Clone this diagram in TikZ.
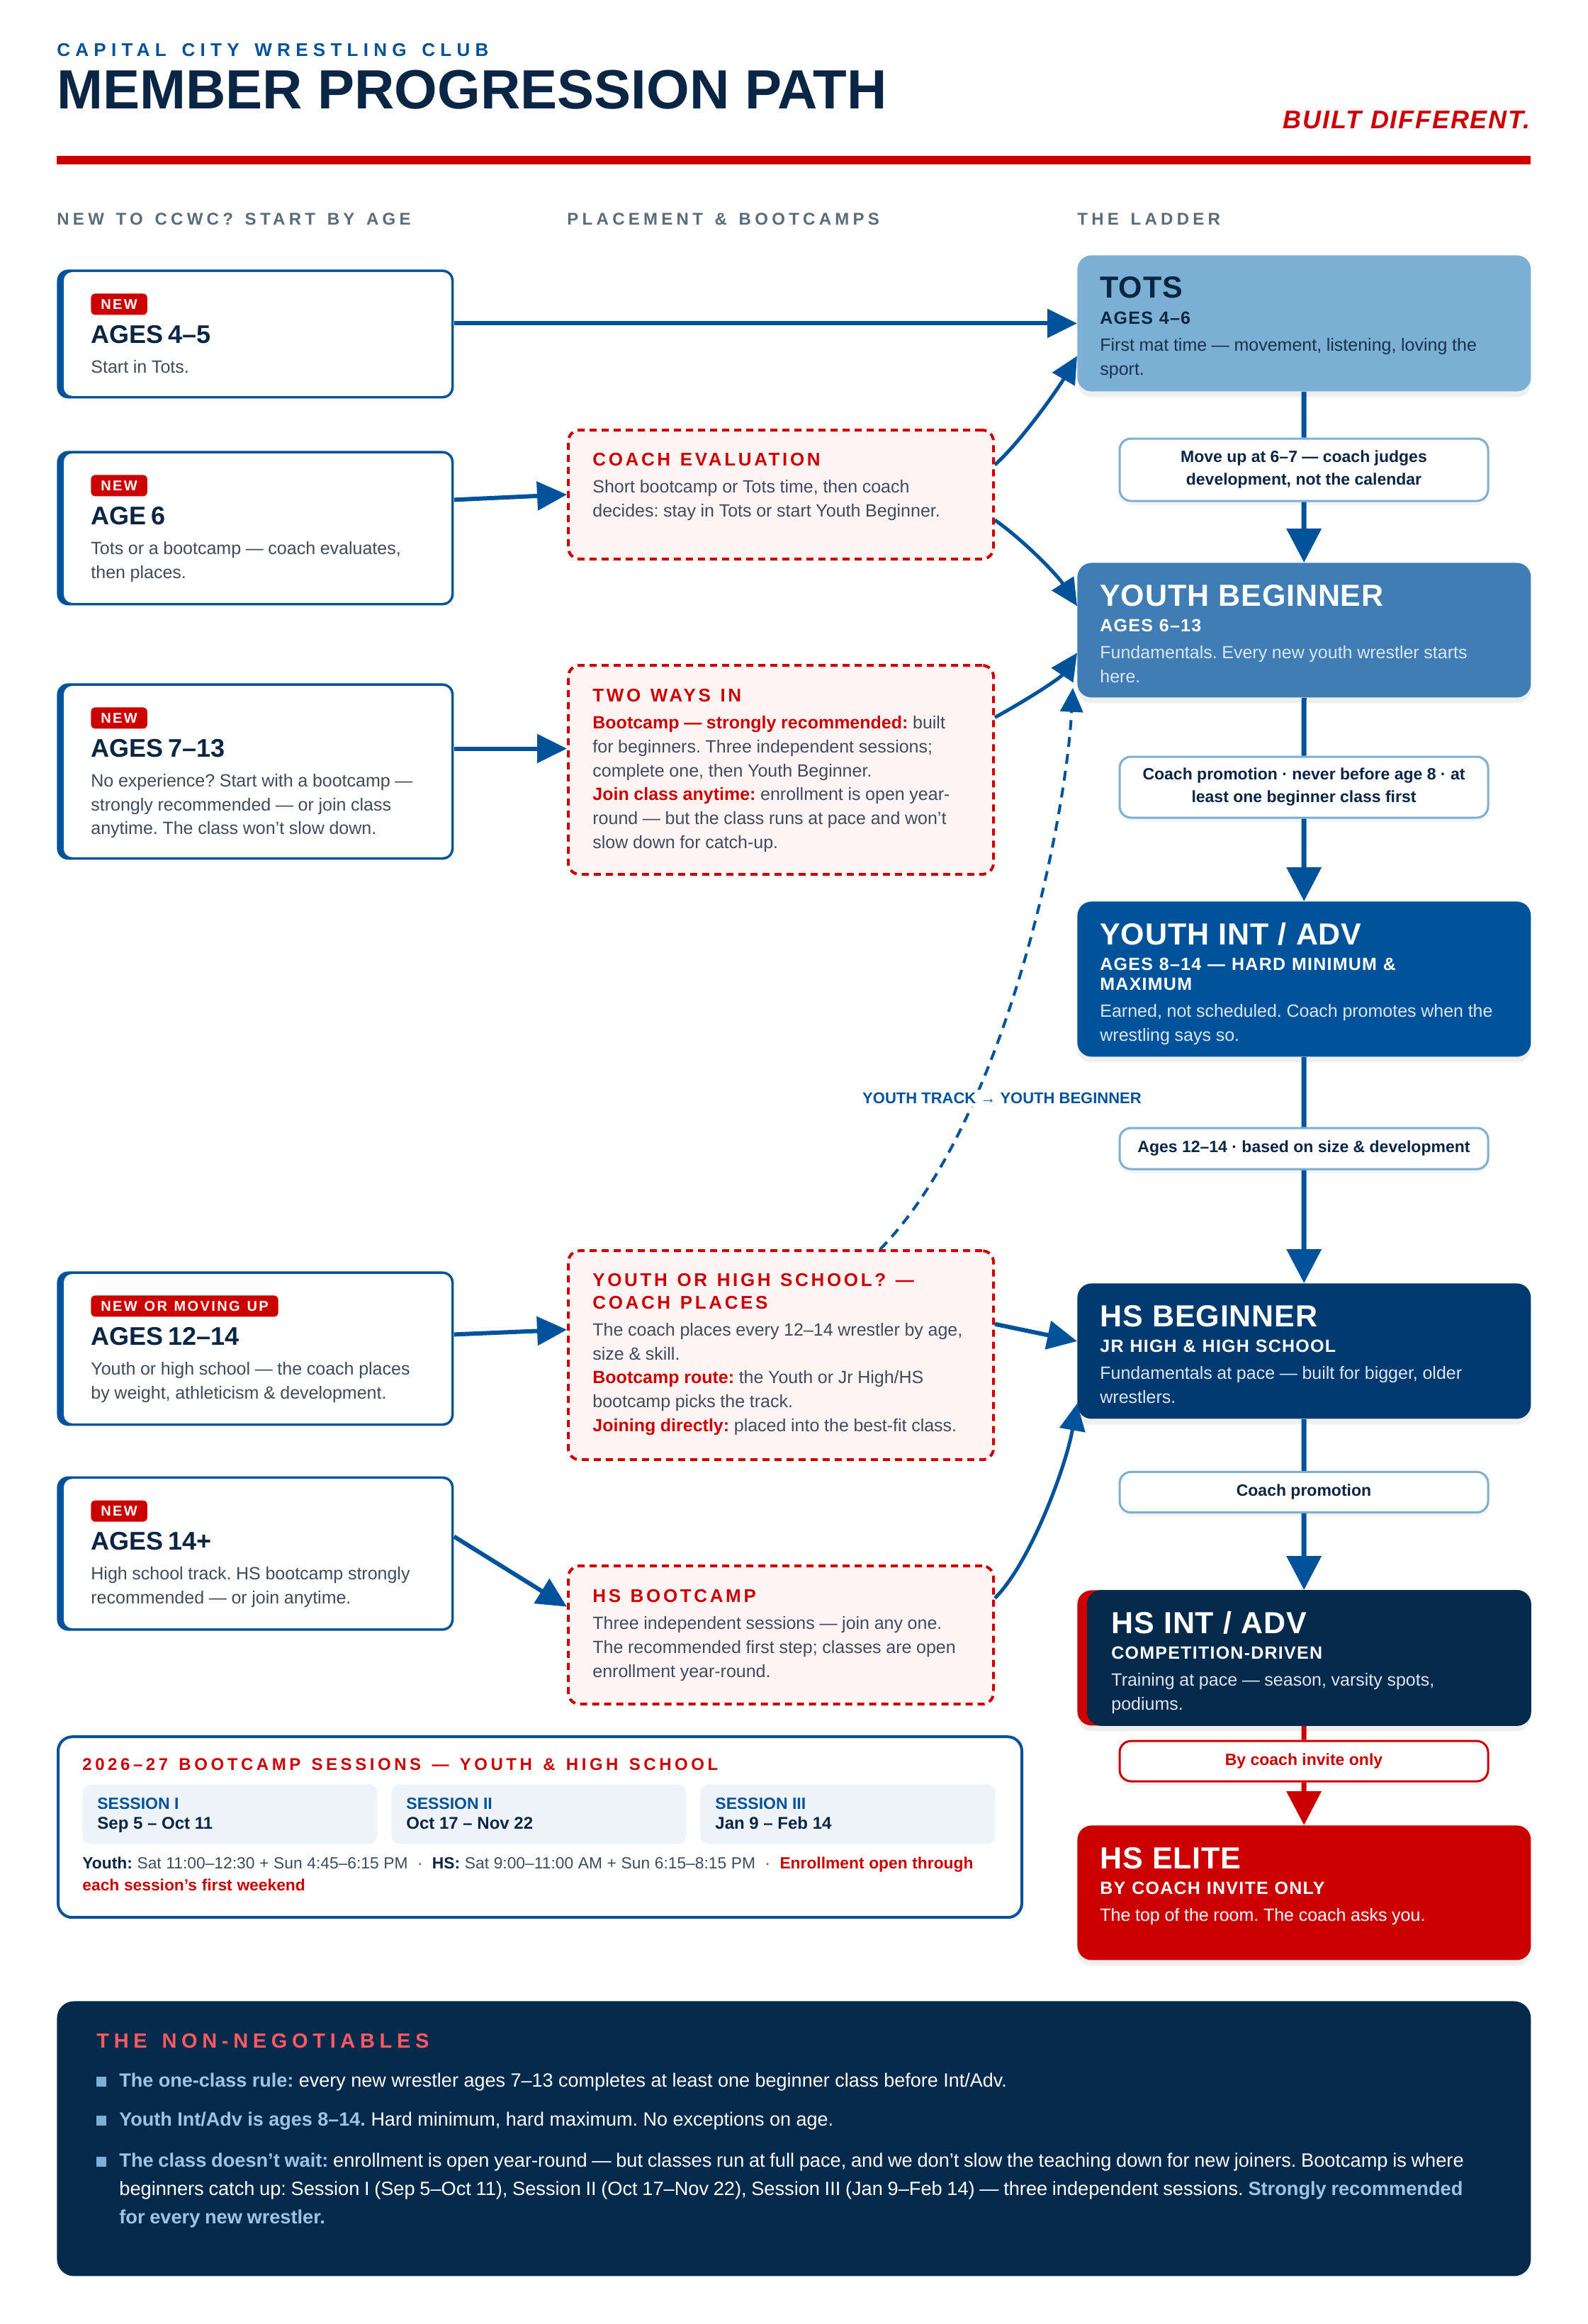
\documentclass[tikz,border=0pt]{standalone}
\usepackage{fontspec}
\setmainfont{Liberation Sans}
\usetikzlibrary{arrows.meta, calc, shadows}
\definecolor{blueC}{HTML}{00539B}
\definecolor{navyT}{HTML}{0B2545}
\definecolor{redC}{HTML}{CC0000}
\definecolor{grayT}{HTML}{3F4B5B}
\definecolor{grayH}{HTML}{5C6B7A}
\definecolor{pinkC}{HTML}{FFF4F4}
\definecolor{lightB}{HTML}{7BAFD4}
\definecolor{totsC}{HTML}{7BAFD4}
\definecolor{ybC}{HTML}{3F7DB4}
\definecolor{hsbC}{HTML}{003A70}
\definecolor{navyD}{HTML}{062A4C}
\definecolor{totsbody}{HTML}{17324F}
\definecolor{paleT}{HTML}{DCE7F2}
\definecolor{cardC}{HTML}{EEF3F9}
\definecolor{ruleB}{HTML}{9DC3E6}
\definecolor{ruleR}{HTML}{FF5A5F}
\setlength{\parindent}{0pt}
\setlength{\parskip}{0pt}
\frenchspacing
\newcommand\fz[2]{\fontsize{#1}{#2}\selectfont}
\newcommand\tracked[2]{\addfontfeatures{LetterSpace=#1}\spaceskip=#2\fontdimen2\font}
\newcommand\colhead{\color{grayH}\bfseries\fz{12}{12}\tracked{22}{1.4}}
\newcommand\lefttitle[1]{{\color{navyT}\bfseries\fz{18}{18}\rule{0pt}{18pt}#1\par}}
\newcommand\leftbody[1]{{\vspace{4.2pt}\color{grayT}\fz{12.5}{16.8}#1\par}}
\newcommand\midtitle[1]{{\color{redC}\bfseries\fz{13}{15.8}\tracked{14}{1.25}\rule{0pt}{13pt}#1\par}}
\newcommand\midbody[1]{{\vspace{2.1pt}\color{grayT}\fz{12.5}{16.9}#1\par}}
\newcommand\hot[1]{{\color{redC}\bfseries #1}}
\newcommand\rungtitle[1]{{\bfseries\fz{21.5}{21.5}\tracked{2}{1.035}\rule{0pt}{21.5pt}#1\par}}
\newcommand\rungsub[1]{{\bfseries\fz{12.5}{18}\tracked{5}{1.09}#1\par}}
\newcommand\rungbody[2][.]{{\vspace{2pt}\color{#1}\fz{12.5}{17.2}#2\par}}
\newcommand\rulehi[1]{{\color{ruleB}\bfseries #1}}

\begin{document}
\begin{tikzpicture}[x=1pt, y=-1pt,
  leftbox/.style={anchor=north west, fill=blueC, rounded corners=8pt, minimum width=280pt, inner sep=0pt},
  badge/.style={anchor=north west, fill=redC, rounded corners=3pt, inner xsep=7pt, inner ysep=0pt, minimum height=15pt, text=white, font=\bfseries\fz{10}{10}\tracked{12}{1.22}},
  lefttext/.style={anchor=north west, inner sep=0pt, text width=275pt, align=left},
  midbox/.style={anchor=north west, draw=redC, line width=2pt, dash pattern=on 5pt off 3.5pt, fill=pinkC, rounded corners=8pt, minimum width=300pt, inner sep=0pt},
  midtext/.style={anchor=north west, inner sep=0pt, text width=295pt, align=left},
  rung/.style={anchor=north west, rounded corners=10pt, minimum width=320pt, inner sep=0pt, drop shadow={opacity=0.12, shadow xshift=0pt, shadow yshift=-4pt}},
  rungtext/.style={anchor=north west, inner sep=0pt, text width=300pt, align=left},
  ladlabel/.style={draw=lightB, line width=1.5pt, fill=white, rounded corners=8pt, minimum width=260pt, inner sep=0pt, align=center, text=navyT, font=\bfseries\fz{11.5}{16}, drop shadow={opacity=0.08, shadow xshift=0pt, shadow yshift=-3pt}},
  flow/.style={draw=blueC, line width=3pt, -{Triangle[length=21pt, width=20pt]}},
  bendflow/.style={draw=blueC, line width=2.5pt, -{Triangle[length=19pt, width=18pt]}},
  rungline/.style={draw=blueC, line width=3.5pt},
  rungarrow/.style={rungline, -{Triangle[length=24pt, width=24pt]}},
  card/.style={anchor=north west, fill=cardC, rounded corners=6pt, minimum width=208pt, minimum height=42pt, inner sep=0pt}
]
	\fill[white] (0,0) rectangle (1120,1640);
	\useasboundingbox (0,0) rectangle (1120,1640);

	\node[anchor=base west, inner sep=0pt] (club) at (40,40) {\color{blueC}\bfseries\fz{13}{13}\tracked{28}{1.5}CAPITAL CITY WRESTLING CLUB};
	\node[anchor=base west, inner sep=0pt] (headline) at (40,77) {\color{navyT}\bfseries\fz{39}{39}MEMBER PROGRESSION PATH};
	\node[anchor=base east, inner sep=0pt] (motto) at (1080,91) {\color{redC}\bfseries\itshape\fz{18}{18}\tracked{5}{1.09}BUILT DIFFERENT.};
	\fill[redC] (40,110) rectangle (1080,116);
	\node[anchor=base west, inner sep=0pt] (colnew) at (40,159) {\colhead NEW TO CCWC? START BY AGE};
	\node[anchor=base west, inner sep=0pt] (colplace) at (400,159) {\colhead PLACEMENT \& BOOTCAMPS};
	\node[anchor=base west, inner sep=0pt] (colladder) at (760,159) {\colhead THE LADDER};

	\node[leftbox, minimum height=91pt] (b1) at (40,190) {};
	\node[leftbox, minimum height=109pt] (b2) at (40,318) {};
	\node[leftbox, minimum height=124.5pt] (b3) at (40,482) {};
	\node[leftbox, minimum height=109pt] (b4) at (40,897) {};
	\node[leftbox, minimum height=109pt] (b5) at (40,1041.6) {};
	\foreach \b in {b1,b2,b3,b4,b5}
		\fill[white, rounded corners=6pt] ($(\b.north west)+(5,2)$) rectangle ($(\b.south east)+(-2,-2)$);
	\node[badge] (b1tag) at ($(b1.north west)+(24,17)$) {NEW};
	\node[badge] (b2tag) at ($(b2.north west)+(24,17)$) {NEW};
	\node[badge] (b3tag) at ($(b3.north west)+(24,17)$) {NEW};
	\node[badge] (b4tag) at ($(b4.north west)+(24,17)$) {NEW OR MOVING UP};
	\node[badge] (b5tag) at ($(b5.north west)+(24,17)$) {NEW};
	\node[lefttext] (b1text) at ($(b1.north west)+(24,34)$) {\lefttitle{AGES 4–5}\leftbody{Start in Tots.}};
	\node[lefttext] (b2text) at ($(b2.north west)+(24,34)$) {\lefttitle{AGE 6}\leftbody{Tots or a bootcamp — coach evaluates,\\then places.}};
	\node[lefttext] (b3text) at ($(b3.north west)+(24,34)$) {\lefttitle{AGES 7–13}\leftbody{No experience? Start with a bootcamp —\\strongly recommended — or join class\\anytime. The class won’t slow down.}};
	\node[lefttext] (b4text) at ($(b4.north west)+(24,34)$) {\lefttitle{AGES 12–14}\leftbody{Youth or high school — the coach places\\by weight, athleticism \& development.}};
	\node[lefttext] (b5text) at ($(b5.north west)+(24,34)$) {\lefttitle{AGES 14+}\leftbody{High school track. HS bootcamp strongly\\recommended — or join anytime.}};

	\node[midbox, minimum height=91pt] (m1) at (400,302.5) {};
	\node[midbox, minimum height=147.5pt] (m2) at (400,468.5) {};
	\node[midbox, minimum height=147.5pt] (m3) at (400,881.6) {};
	\node[midbox, minimum height=97.6pt] (m4) at (400,1104) {};
	\node[midtext] (m1text) at ($(m1.north west)+(18,13)$) {\midtitle{COACH EVALUATION}\midbody{Short bootcamp or Tots time, then coach\\decides: stay in Tots or start Youth Beginner.}};
	\node[midtext] (m2text) at ($(m2.north west)+(18,13.5)$) {\midtitle{TWO WAYS IN}\midbody{\hot{Bootcamp — strongly recommended:} built\\for beginners. Three independent sessions;\\complete one, then Youth Beginner.\\\hot{Join class anytime:} enrollment is open year-\\round — but the class runs at pace and won’t\\slow down for catch-up.}};
	\node[midtext] (m3text) at ($(m3.north west)+(18,13)$) {\midtitle{YOUTH OR HIGH SCHOOL? —\\COACH PLACES}\midbody{The coach places every 12–14 wrestler by age,\\size \& skill.\\\hot{Bootcamp route:} the Youth or Jr High/HS\\bootcamp picks the track.\\\hot{Joining directly:} placed into the best-fit class.}};
	\node[midtext] (m4text) at ($(m4.north west)+(18,13.5)$) {\midtitle{HS BOOTCAMP}\midbody{Three independent sessions — join any one.\\The recommended first step; classes are open\\enrollment year-round.}};

	\node[rung, fill=totsC, minimum height=96pt] (tots) at (760,180) {};
	\node[rung, fill=ybC, minimum height=95pt] (yb) at (760,397) {};
	\node[rung, fill=blueC, minimum height=109.5pt] (yia) at (760,636) {};
	\node[rung, fill=hsbC, minimum height=95.5pt] (hsb) at (760,905.5) {};
	\node[rung, fill=redC, minimum height=95.5pt] (hsia) at (760,1122) {};
	\fill[navyD, rounded corners=10pt] ($(hsia.north west)+(7,0)$) rectangle (hsia.south east);
	\node[rung, fill=redC, minimum height=95pt] (hse) at (760,1288) {};
	\node[rungtext, text=navyT] (totstext) at ($(tots.north west)+(16,8.8)$) {\rungtitle{TOTS}\rungsub{AGES 4–6}\rungbody[totsbody]{First mat time — movement, listening, loving the\\sport.}};
	\node[rungtext, text=white] (ybtext) at ($(yb.north west)+(16,8.8)$) {\rungtitle{YOUTH BEGINNER}\rungsub{AGES 6–13}\rungbody[paleT]{Fundamentals. Every new youth wrestler starts\\here.}};
	\node[rungtext, text=white] (yiatext) at ($(yia.north west)+(16,8.8)$) {\rungtitle{YOUTH INT / ADV}\rungsub{AGES 8–14 — HARD MINIMUM \&\\[-4pt]MAXIMUM}\rungbody[paleT]{Earned, not scheduled. Coach promotes when the\\wrestling says so.}};
	\node[rungtext, text=white] (hsbtext) at ($(hsb.north west)+(16,8.8)$) {\rungtitle{HS BEGINNER}\rungsub{JR HIGH \& HIGH SCHOOL}\rungbody[paleT]{Fundamentals at pace — built for bigger, older\\wrestlers.}};
	\node[rungtext, text=white] (hsiatext) at ($(hsia.north west)+(24,8.8)$) {\rungtitle{HS INT / ADV}\rungsub{COMPETITION-DRIVEN}\rungbody[paleT]{Training at pace — season, varsity spots,\\podiums.}};
	\node[rungtext, text=white] (hsetext) at ($(hse.north west)+(16,8.8)$) {\rungtitle{HS ELITE}\rungsub{BY COACH INVITE ONLY}\rungbody[white]{The top of the room. The coach asks you.}};

	\node[ladlabel, minimum height=44pt] (lab1) at (920,331.5) {Move up at 6–7 — coach judges\\development, not the calendar};
	\node[ladlabel, minimum height=43pt] (lab2) at (920,555.5) {Coach promotion · never before age 8 · at\\least one beginner class first};
	\node[ladlabel, minimum height=29pt] (lab3) at (920,810.5) {Ages 12–14 · based on size \& development};
	\node[ladlabel, minimum height=28.6pt] (lab4) at (920,1053) {Coach promotion};
	\node[ladlabel, minimum height=28.4pt, draw=redC, text=redC] (lab5) at (920,1242.8) {By coach invite only};

	\draw[rungline] (tots) -- (lab1);
	\draw[rungarrow] (lab1) -- (yb);
	\draw[rungline] (yb) -- (lab2);
	\draw[rungarrow] (lab2) -- (yia);
	\draw[rungline] (yia) -- (lab3);
	\draw[rungarrow] (lab3) -- (hsb);
	\draw[rungline] (hsb) -- (lab4);
	\draw[rungarrow] (lab4) -- (hsia);
	\draw[rungline, draw=redC] (hsia) -- (lab5);
	\draw[rungarrow, draw=redC] (lab5) -- (hse);

	\draw[flow] (b1.east |- tots.west) -- (tots.west);
	\draw[flow] ($(b2.east)+(0,-20)$) -- (m1.west);
	\draw[flow] (b3.east |- m2.west) ++(0,-15) -- ($(m2.west)+(0,-15)$);
	\draw[flow] ($(b4.east)+(0,-10)$) -- ($(m3.west)+(0,-18)$);
	\draw[flow] ($(b5.east)+(0,-12)$) -- ($(m4.west)+(0,-20)$);
	\draw[flow] ($(m3.east)+(0,-22)$) -- ($(hsb.west)+(0,-7)$);
	\draw[bendflow] ($(m1.east)+(0,-21)$) .. controls +(18,-16) and +(-14,24) .. ($(tots.west)+(0,23)$);
	\draw[bendflow] ($(m1.east)+(0,18)$) .. controls +(20,14) and +(-14,-22) .. ($(yb.west)+(0,-17)$);
	\draw[bendflow] ($(m2.east)+(0,-37)$) .. controls +(22,-12) and +(-12,18) .. ($(yb.west)+(0,16)$);
	\draw[bendflow] ($(m4.east)+(0,-26)$) .. controls +(25,-25) and +(-8,45) .. ($(hsb.west)+(0,37)$);
	\draw[draw=blueC, line width=2pt, dash pattern=on 7pt off 5pt, -{Triangle[length=17pt, width=16pt]}] ($(m3.north)+(70,0)$) .. controls +(88,-90) and +(-5,95) .. ($(yb.south west)+(-3,-7)$);
	\node[fill=white, inner sep=2pt] (tracklabel) at (707,775) {\color{blueC}\bfseries\fz{11}{11}YOUTH TRACK → YOUTH BEGINNER};

	\node[anchor=north west, draw=blueC, line width=2pt, fill=white, rounded corners=10pt, minimum width=680pt, minimum height=127.5pt, inner sep=0pt] (sessions) at (40,1224.6) {};
	\node[anchor=base west, inner sep=0pt] (sesstitle) at (58,1249) {\color{redC}\bfseries\fz{12}{12}\tracked{19}{1.36}2026–27 BOOTCAMP SESSIONS — YOUTH \& HIGH SCHOOL};
	\node[card] (s1) at (58,1259) {};
	\node[card] (s2) at (276,1259) {};
	\node[card] (s3) at (494,1259) {};
	\node[anchor=base west, inner sep=0pt] (s1name) at ($(s1.north west)+(10.5,17.7)$) {\color{blueC}\bfseries\fz{11.5}{11.5}SESSION I};
	\node[anchor=base west, inner sep=0pt] (s1date) at ($(s1.north west)+(10.5,31.8)$) {\color{navyT}\bfseries\fz{12}{12}Sep 5 – Oct 11};
	\node[anchor=base west, inner sep=0pt] (s2name) at ($(s2.north west)+(10.5,17.7)$) {\color{blueC}\bfseries\fz{11.5}{11.5}SESSION II};
	\node[anchor=base west, inner sep=0pt] (s2date) at ($(s2.north west)+(10.5,31.8)$) {\color{navyT}\bfseries\fz{12}{12}Oct 17 – Nov 22};
	\node[anchor=base west, inner sep=0pt] (s3name) at ($(s3.north west)+(10.5,17.7)$) {\color{blueC}\bfseries\fz{11.5}{11.5}SESSION III};
	\node[anchor=base west, inner sep=0pt] (s3date) at ($(s3.north west)+(10.5,31.8)$) {\color{navyT}\bfseries\fz{12}{12}Jan 9 – Feb 14};
	\node[anchor=north west, inner sep=0pt, text width=680pt, align=left] (schedule) at (58,1306.9) {\fz{11.4}{15.7}\color{grayT}\rule{0pt}{11.4pt}{\color{navyT}\bfseries Youth:} Sat 11:00–12:30 + Sun 4:45–6:15 PM \ · \ {\color{navyT}\bfseries HS:} Sat 9:00–11:00 AM + Sun 6:15–8:15 PM \ · \ \hot{Enrollment open through}\\\hot{each session’s first weekend}\par};

	\node[anchor=north west, fill=navyD, rounded corners=12pt, minimum width=1040pt, minimum height=194pt, inner sep=0pt] (rules) at (40,1412) {};
	\node[anchor=base west, inner sep=0pt] (rulestitle) at (68,1445) {\color{ruleR}\bfseries\fz{14.5}{14.5}\tracked{23}{1.41}THE NON-NEGOTIABLES};
	\fill[lightB] (68,1465.5) rectangle (75,1472.5);
	\fill[lightB] (68,1493) rectangle (75,1500);
	\fill[lightB] (68,1522) rectangle (75,1529);
	\node[anchor=base west, inner sep=0pt] (rule1) at (84,1472.5) {\color{white}\fz{13.5}{13.5}\rulehi{The one-class rule:} every new wrestler ages 7–13 completes at least one beginner class before Int/Adv.};
	\node[anchor=base west, inner sep=0pt] (rule2) at (84,1500) {\color{white}\fz{13.5}{13.5}\rulehi{Youth Int/Adv is ages 8–14.} Hard minimum, hard maximum. No exceptions on age.};
	\node[anchor=north west, inner sep=0pt, text width=1000pt, align=left] (rule3) at (84,1515.5) {\color{white}\fz{13.6}{20}\rule{0pt}{13.6pt}\rulehi{The class doesn’t wait:} enrollment is open year-round — but classes run at full pace, and we don’t slow the teaching down for new joiners. Bootcamp is where\\beginners catch up: Session I (Sep 5–Oct 11), Session II (Oct 17–Nov 22), Session III (Jan 9–Feb 14) — three independent sessions. \rulehi{Strongly recommended}\\\rulehi{for every new wrestler.}\par};
\end{tikzpicture}
\end{document}
